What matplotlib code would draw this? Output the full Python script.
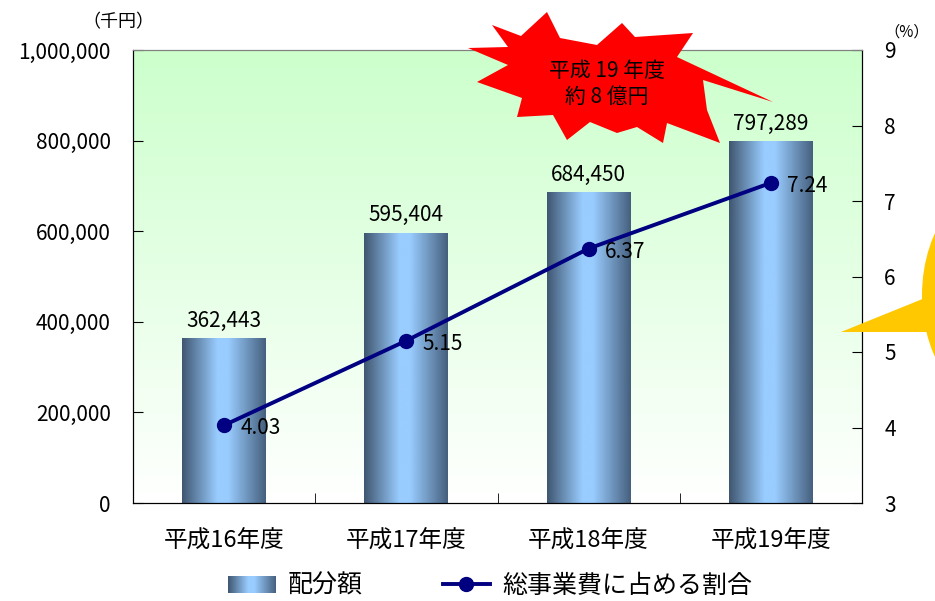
import matplotlib.pyplot as plt
import numpy as np
from matplotlib.colors import LinearSegmentedColormap
from matplotlib.patches import Polygon, Ellipse, Rectangle
from matplotlib.lines import Line2D

plt.rcParams['font.family'] = ['Noto Sans CJK JP', 'DejaVu Sans']

# data
categories = ['平成16年度', '平成17年度', '平成18年度', '平成19年度']
amounts = [362443, 595404, 684450, 797289]
ratios = [4.03, 5.15, 6.37, 7.24]
left_ticks = [0, 200000, 400000, 600000, 800000, 1000000]
right_ticks = [3, 4, 5, 6, 7, 8, 9]

W, H = 935, 601
fig = plt.figure(figsize=(W / 100, H / 100), dpi=100)
ax = fig.add_axes([133 / W, 1 - 503 / H, (862 - 133) / W, (503 - 50) / H])
ax2 = ax.twinx()

# plot area gradient, green at top to white at bottom
bg = LinearSegmentedColormap.from_list('bg', ['#FFFFFF', '#CCFFCC'])
ax.imshow(np.linspace(0, 1, 256).reshape(-1, 1), cmap=bg, origin='lower',
          extent=[0, 1, 0, 1], transform=ax.transAxes, aspect='auto', zorder=0)

# bars with horizontal shading
bar_cmap = LinearSegmentedColormap.from_list(
    'bar', [(0, '#3F5670'), (0.42, '#99CCFF'), (0.55, '#99CCFF'), (1, '#46607E')])
grad = np.linspace(0, 1, 256).reshape(1, -1)
x = np.arange(len(categories))
bw = 0.46
for xi, v in zip(x, amounts):
    ax.imshow(grad, cmap=bar_cmap, extent=[xi - bw / 2, xi + bw / 2, 0, v],
              aspect='auto', zorder=2)
    ax.text(xi, v + 16000, f'{v:,}', ha='center', va='bottom', fontsize=15, zorder=5)

ax.set_xlim(-0.5, len(categories) - 0.5)
ax.set_ylim(0, 1000000)
ax.set_yticks(left_ticks)
ax.set_yticklabels([f'{t:,}' for t in left_ticks], fontsize=15)
ax.set_xticks(x)
ax.set_xticklabels(categories, fontsize=17)
ax.set_xticks(x[:-1] + 0.5, minor=True)
ax.tick_params(axis='x', which='major', length=0, pad=19)
ax.tick_params(axis='x', which='minor', direction='in', length=7)
ax.tick_params(axis='y', direction='in', length=7, pad=16)

# ratio line
ax2.plot(x, ratios, color='#000080', lw=2.8, marker='o', markersize=10, zorder=4)
for xi, r in zip(x, ratios):
    ax2.text(xi + 0.09, r - 0.04, f'{r:.2f}', ha='left', va='center', fontsize=15,
             zorder=5)
ax2.set_ylim(3, 9)
ax2.set_yticks(right_ticks)
ax2.set_yticklabels([str(t) for t in right_ticks], fontsize=15)
ax2.tick_params(axis='y', direction='in', length=7, pad=16)

for a in (ax, ax2):
    a.spines['top'].set_color('#808080')
    for s in ('left', 'right', 'bottom'):
        a.spines[s].set_color('#000000')

# unit labels
fig.text(118 / W, 1 - 22 / H, '（千円）', ha='center', va='center', fontsize=13)
fig.text(907 / W, 1 - 32 / H, '（%）', ha='center', va='center', fontsize=11)

# red starburst callout
def px(pts):
    return [(px_x / W, 1 - px_y / H) for px_x, px_y in pts]

burst = [(492, 25), (521, 36), (547, 12), (560, 38), (597, 45), (622, 23),
         (635, 37), (693, 33), (677, 57), (773, 102), (703, 80), (707, 110),
         (720, 143), (667, 123), (663, 143), (637, 127), (617, 133), (590, 122),
         (567, 140), (553, 115), (517, 117), (522, 98), (477, 82), (508, 65),
         (468, 48), (508, 47)]
fig.patches.append(Polygon(px(burst), closed=True, facecolor='#FF0000',
                           edgecolor='none', transform=fig.transFigure, zorder=10))
fig.text(607 / W, 1 - 84 / H, '平成 19 年度\n約 8 億円', ha='center', va='center',
         fontsize=15, linespacing=1.25, zorder=11)

# yellow callout cut off at the right edge
fig.patches.append(Ellipse((1022 / W, 1 - 295 / H), 200 / W, 252 / H,
                           facecolor='#FFC800', edgecolor='none',
                           transform=fig.transFigure, zorder=10))
fig.patches.append(Polygon(px([(925, 298), (841, 332), (935, 332)]), closed=True,
                           facecolor='#FFC800', edgecolor='none',
                           transform=fig.transFigure, zorder=10))

# legend at the bottom
bar_handle = Rectangle((0, 0), 1, 1, facecolor='#7FA8D0', edgecolor='none')
line_handle = Line2D([], [], color='#000080', lw=2.8, marker='o', markersize=10)
leg = fig.legend([bar_handle, line_handle], ['配分額', '総事業費に占める割合'],
                 loc='center', bbox_to_anchor=(490 / W, 1 - 586 / H), ncol=2,
                 frameon=False, fontsize=18, columnspacing=3.2, handlelength=1.9,
                 handletextpad=0.5, borderpad=0)

# paint the bar shading onto the legend patch
fig.canvas.draw()
bb = leg.legend_handles[0].get_window_extent().transformed(fig.transFigure.inverted())
lax = fig.add_axes([bb.x0, bb.y0, bb.width, bb.height], zorder=20)
lax.imshow(grad, cmap=bar_cmap, aspect='auto')
lax.axis('off')

fig.savefig('out.png', dpi=100)
